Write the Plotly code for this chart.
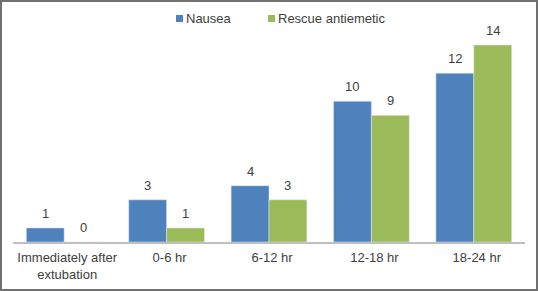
import plotly.graph_objects as go

categories = ["Immediately after<br>extubation", "0-6 hr", "6-12 hr", "12-18 hr", "18-24 hr"]
nausea = [1, 3, 4, 10, 12]
rescue = [0, 1, 3, 9, 14]
series_names = ["Nausea", "Rescue antiemetic"]
series_colors = ["#4f81bd", "#9bbb59"]

W, H = 538, 291
L, R, T, B = 13, 13, 5, 49
pw, ph = W - L - R, H - T - B
unit_px = 14.07
ytop = ph / unit_px
BARGAP = 0.26
off = (1 - BARGAP) / 4
TXT = "#404040"

def px(x):
    return (x - L) / pw

def py(y):
    return (H - B - y) / ph

fig = go.Figure()
xs = list(range(len(categories)))
for name, vals, col in zip(series_names, [nausea, rescue], series_colors):
    fig.add_bar(x=xs, y=vals, name=name, marker_color=col, showlegend=False)

for sign, vals in [(-1, nausea), (1, rescue)]:
    for i, v in enumerate(vals):
        fig.add_annotation(x=i + sign * off, y=v, text=str(v), showarrow=False, xref="x", yref="y",
                           yanchor="bottom", yshift=5, font=dict(size=13, color=TXT))

# legend (manual, to match the small square keys)
legend_sw_x = [176, 268]
for name, col, sx in zip(series_names, series_colors, legend_sw_x):
    fig.add_shape(type="rect", xref="paper", yref="paper",
                  x0=px(sx), x1=px(sx + 7), y0=py(22), y1=py(15),
                  line=dict(width=0), fillcolor=col)
    fig.add_annotation(xref="paper", yref="paper", x=px(sx + 8), y=py(18.5),
                       xanchor="left", yanchor="middle", text=name, showarrow=False,
                       font=dict(size=13, color=TXT))

fig.add_shape(type="rect", xref="paper", yref="paper",
              x0=px(1), x1=px(537), y0=py(290), y1=py(1),
              line=dict(color="#707070", width=2), fillcolor="rgba(0,0,0,0)")

fig.update_layout(
    width=W, height=H,
    margin=dict(l=L, r=R, t=T, b=B, autoexpand=False),
    paper_bgcolor="white", plot_bgcolor="white",
    barmode="group", bargap=BARGAP, bargroupgap=0,
    font=dict(family="Liberation Sans, Arial, sans-serif", size=13, color=TXT),
    showlegend=False,
    xaxis=dict(showline=True, linecolor="#bfbfbf", linewidth=2, ticks="",
               tickmode="array", tickvals=xs, ticktext=categories,
               range=[-0.5, len(categories) - 0.5], automargin=False,
               ticklabelshift=3, ticklabelstandoff=2,
               showgrid=False, tickfont=dict(size=13, color=TXT)),
    yaxis=dict(visible=False, range=[0, ytop], showgrid=False, zeroline=False),
)

fig.write_html("out.html", config={"displayModeBar": False},
               post_script="document.body.style.margin='0';document.body.style.overflow='hidden';")
